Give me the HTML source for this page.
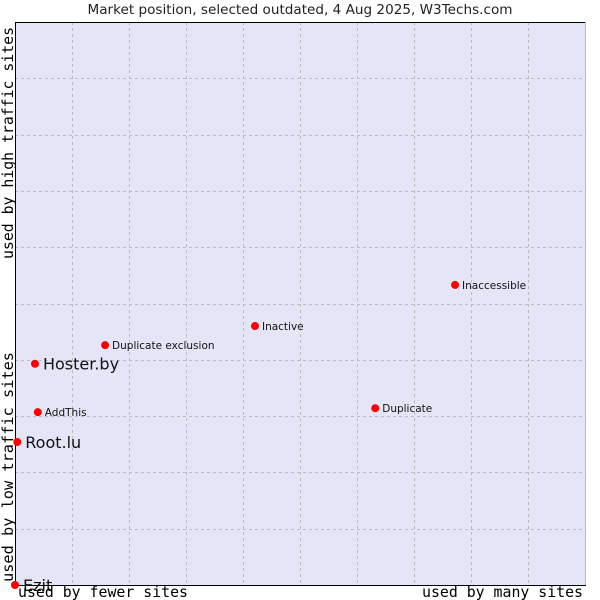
<!DOCTYPE html>
<html><head><meta charset="utf-8"><style>
body{margin:0;background:#fff;}
svg{display:block;font-family:"DejaVu Sans","Liberation Sans",sans-serif;}
</style></head><body>
<svg id="chart" width="600" height="600" viewBox="0 0 600 600">
<text x="300" y="14" text-anchor="middle" font-size="13" textLength="425" lengthAdjust="spacingAndGlyphs" fill="#222">Market position, selected outdated, 4 Aug 2025, W3Techs.com</text>
<rect x="15" y="22" width="570" height="563" fill="#e4e6f8"/>
<g id="grid"></g>
<line x1="585.5" y1="22" x2="585.5" y2="585" stroke="#bbb"/>
<line x1="15" y1="22.5" x2="585" y2="22.5" stroke="#000"/>
<line x1="15.5" y1="22" x2="15.5" y2="585" stroke="#000"/>
<line x1="15" y1="585.5" x2="586" y2="585.5" stroke="#000"/>
<g id="points"></g>
<text x="18" y="597" font-family="'DejaVu Sans Mono','Liberation Mono',monospace" font-size="15" textLength="170" lengthAdjust="spacingAndGlyphs" fill="#000">used by fewer sites</text>
<text x="422" y="597" font-family="'DejaVu Sans Mono','Liberation Mono',monospace" font-size="15" textLength="161" lengthAdjust="spacingAndGlyphs" fill="#000">used by many sites</text>
<text transform="translate(13,582) rotate(-90)" font-family="'DejaVu Sans Mono','Liberation Mono',monospace" font-size="15" textLength="230" lengthAdjust="spacingAndGlyphs" fill="#000">used by low traffic sites</text>
<text transform="translate(13,259) rotate(-90)" font-family="'DejaVu Sans Mono','Liberation Mono',monospace" font-size="15" textLength="232" lengthAdjust="spacingAndGlyphs" fill="#000">used by high traffic sites</text>
</svg>
<script>
const names = ["Ezit","Root.lu","AddThis","Hoster.by","Duplicate exclusion","Inactive","Duplicate","Inaccessible"];
const xValues = [0, 0.4, 4.0, 3.5, 15.8, 42.1, 63.2, 77.2];
const yValues = [0, 25.4, 30.7, 39.3, 42.6, 46.0, 31.4, 53.3];
const bigLabel = [true, true, false, true, false, false, false, false];

const NS = "http://www.w3.org/2000/svg";
const X0 = 15, X1 = 585, Y0 = 585, Y1 = 22;
function xs(v){ return X0 + v/100*(X1-X0); }
function ys(v){ return Y0 - v/100*(Y0-Y1); }

const grid = document.getElementById('grid');
for (let i = 1; i <= 9; i++) {
  const gx = 15 + i*57 + 0.5;
  const l = document.createElementNS(NS,'line');
  
  
  l.setAttribute('x1', gx); l.setAttribute('x2', gx);
  l.setAttribute('y1', Y1); l.setAttribute('y2', Y0);
  l.setAttribute('stroke', '#bcbcbc'); l.setAttribute('stroke-dasharray', '3,3');
  grid.appendChild(l);
  const gy = Math.round(585 - i*56.3) + 0.5;
  const h = document.createElementNS(NS,'line');
  
  
  h.setAttribute('x1', X0); h.setAttribute('x2', X1);
  h.setAttribute('y1', gy); h.setAttribute('y2', gy);
  h.setAttribute('stroke', '#bcbcbc'); h.setAttribute('stroke-dasharray', '3,3');
  grid.appendChild(h);
}

const pts = document.getElementById('points');
names.forEach((n, i) => {
  const cx = xs(xValues[i]), cy = ys(yValues[i]);
  const c = document.createElementNS(NS,'circle');
  
  
  c.setAttribute('cx', cx); c.setAttribute('cy', cy);
  c.setAttribute('r', 4); c.setAttribute('fill', '#ff0000');
  pts.appendChild(c);
  const t = document.createElementNS(NS,'text');
  
  
  t.setAttribute('x', cx + (bigLabel[i] ? 8 : 7));
  t.setAttribute('y', cy + (bigLabel[i] ? 6 : 4));
  t.setAttribute('font-size', bigLabel[i] ? 16 : 10.5);
  t.setAttribute('fill', '#111');
  t.textContent = n;
  pts.appendChild(t);
});
</script>
</body></html>
